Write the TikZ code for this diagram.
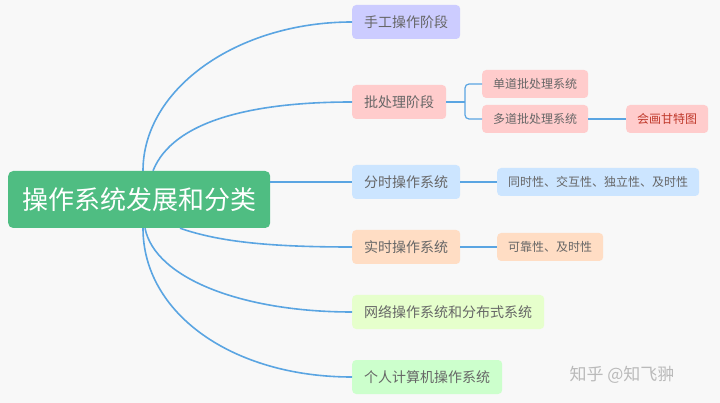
\documentclass[tikz,border=0pt]{standalone}
\usepackage{fontspec}
\setmainfont{Noto Sans CJK SC}
\usepackage{tikz}
\usetikzlibrary{positioning,calc}

\definecolor{bgcol}{HTML}{F8F8F8}
\definecolor{linecol}{HTML}{5AA5E2}
\definecolor{rootcol}{HTML}{4FBD82}
\definecolor{txtcol}{HTML}{666666}
\definecolor{lavcol}{HTML}{CCCCFF}
\definecolor{pinkcol}{HTML}{FFCCCC}
\definecolor{bluecol}{HTML}{CCE5FF}
\definecolor{peachcol}{HTML}{FFDDC4}
\definecolor{limecol}{HTML}{E6FFCC}
\definecolor{greencol}{HTML}{CCFFCC}
\definecolor{redtxt}{HTML}{C0392B}

\tikzset{
  topic/.style={draw=none,rounded corners=4pt,anchor=west,inner xsep=12pt,
    minimum height=34pt,text=txtcol,font=\fontsize{14}{16}\selectfont},
  subtopic/.style={draw=none,rounded corners=4pt,anchor=west,inner xsep=11pt,
    minimum height=28pt,text=txtcol,font=\fontsize{12}{14}\selectfont},
  branch/.style={draw=linecol,line width=1.6pt}
}

\begin{document}
\begin{tikzpicture}[x=1pt,y=-1pt]
  \fill[bgcol] (0,0) rectangle (720,403); % 背景
  \useasboundingbox (0,0) rectangle (720,403);
  \node[fill=rootcol,rounded corners=5pt,anchor=west,inner xsep=14pt,minimum height=57pt,
    text=white,font=\fontsize{26}{30}\selectfont] (root) at (8,199.5) {操作系统发展和分类}; % 中心テーマ
  \node[topic,fill=lavcol] (shougong) at (352,22) {手工操作阶段}; % 第1段階
  \node[topic,fill=pinkcol] (pichuli) at (352,102) {批处理阶段}; % 第2段階
  \node[topic,fill=bluecol] (fenshi) at (352,182) {分时操作系统};
  \node[topic,fill=peachcol] (shishi) at (352,247) {实时操作系统};
  \node[topic,fill=limecol] (wangluo) at (352,312) {网络操作系统和分布式系统};
  \node[topic,fill=greencol] (geren) at (352,377) {个人计算机操作系统};
  \node[subtopic,fill=pinkcol] (dandao) at (482,84) {单道批处理系统}; % 批処理の下位項目
  \node[subtopic,fill=pinkcol] (duodao) at (482,119) {多道批处理系统};
  \node[subtopic,fill=pinkcol,text=redtxt] (gantt) at (626,119) {会画甘特图};
  \node[subtopic,fill=bluecol] (fenshitx) at (497,182) {同时性、交互性、独立性、及时性};
  \node[subtopic,fill=peachcol] (shishitx) at (497,247) {可靠性、及时性};
  \node[text=black!27,font=\fontsize{17}{20}\selectfont,anchor=west] (mark) at (566,375) {知乎 @知飞翀}; % 透かし
  \draw[branch] ([xshift=135pt]root.north west)
    .. controls +(0,-82) and +(-115,0) .. (shougong.west); % 上向きの曲線
  \draw[branch] ([xshift=145pt]root.north west)
    .. controls +(20,-50) and +(-100,0) .. (pichuli.west);
  \draw[branch] (fenshi.west -| root.east) -- (fenshi.west); % 水平線
  \draw[branch] ([xshift=172pt]root.south west)
    .. controls +(40,14) and +(-80,0) .. (shishi.west); % 下向きの曲線
  \draw[branch] ([xshift=137pt]root.south west)
    .. controls +(10,50) and +(-110,0) .. (wangluo.west);
  \draw[branch] ([xshift=135pt]root.south west)
    .. controls +(0,85) and +(-120,0) .. (geren.west);
  \draw[branch,line width=1.2pt] (pichuli.east) -- ([xshift=-17pt]dandao.west |- pichuli.east); % 分岐の括弧
  \draw[branch,line width=1.2pt,rounded corners=4pt] (dandao.west)
    -| ([xshift=-17pt]dandao.west |- pichuli.east) |- (duodao.west);
  \draw[branch,line width=1.2pt] (duodao.east) -- (gantt.west);
  \draw[branch,line width=1.2pt] (fenshi.east) -- (fenshitx.west);
  \draw[branch,line width=1.2pt] (shishi.east) -- (shishitx.west);
\end{tikzpicture}
\end{document}
